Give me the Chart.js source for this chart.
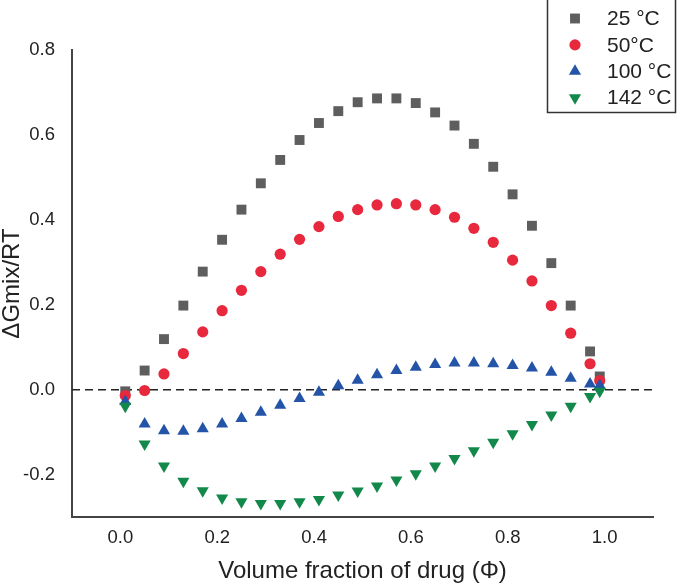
<!DOCTYPE html>
<html>
<head>
<meta charset="utf-8">
<script src="https://cdn.jsdelivr.net/npm/chart.js@4/dist/chart.umd.min.js"></script>
<style>
  html, body { margin: 0; padding: 0; background: #fff; }
  .wrap { position: relative; width: 677px; height: 586px; }
</style>
</head>
<body>
<div class="wrap"><canvas id="grafico"></canvas></div>
<script>
// volume fraction of drug
const phi = [0.01, 0.05, 0.09, 0.13, 0.17, 0.21, 0.25, 0.29, 0.33, 0.37, 0.41, 0.45, 0.49,
             0.53, 0.57, 0.61, 0.65, 0.69, 0.73, 0.77, 0.81, 0.85, 0.89, 0.93, 0.97, 0.99];

// dGmix/RT at each temperature
const g25 = [-0.004, 0.045, 0.119, 0.198, 0.278, 0.353, 0.424, 0.486, 0.541, 0.588, 0.628, 0.656, 0.677,
             0.686, 0.686, 0.675, 0.653, 0.622, 0.579, 0.525, 0.460, 0.386, 0.298, 0.198, 0.090, 0.031];
const g50 = [-0.014, -0.002, 0.037, 0.085, 0.136, 0.186, 0.234, 0.278, 0.319, 0.354, 0.384, 0.408, 0.424,
             0.435, 0.438, 0.435, 0.424, 0.406, 0.380, 0.347, 0.305, 0.256, 0.198, 0.133, 0.061, 0.021];
const g100 = [-0.028, -0.081, -0.097, -0.098, -0.092, -0.081, -0.068, -0.053, -0.037, -0.021, -0.006, 0.009, 0.022,
              0.035, 0.045, 0.053, 0.059, 0.063, 0.063, 0.061, 0.057, 0.051, 0.041, 0.027, 0.013, 0.010];
const g142 = [-0.039, -0.128, -0.180, -0.216, -0.238, -0.255, -0.264, -0.268, -0.268, -0.264, -0.259, -0.248, -0.239,
              -0.227, -0.213, -0.198, -0.180, -0.162, -0.144, -0.124, -0.104, -0.082, -0.060, -0.039, -0.016, -0.004];

const labels = ['25 °C', '50°C', '100 °C', '142 °C'];
const xTicks = [0.0, 0.2, 0.4, 0.6, 0.8, 1.0];
const yTicks = [-0.2, 0.0, 0.2, 0.4, 0.6, 0.8];

const FONT = "'Liberation Sans', Arial, sans-serif";
const pts = arr => arr.map((v, i) => ({ x: phi[i], y: v }));

// legend drawn as a bordered box in the top-right corner
const legendBox = {
    id: 'legendBox',
    afterDraw(chart) {
        const ctx = chart.ctx;
        ctx.save();
        ctx.strokeStyle = '#333';
        ctx.lineWidth = 1.5;
        ctx.strokeRect(547.5, -2, 128, 114.5);
        ctx.font = '21px ' + FONT;
        ctx.textBaseline = 'middle';
        ctx.textAlign = 'left';
        chart.data.datasets.filter(ds => ds.label).forEach((ds, i) => {
            const y = 18.5 + i * 26.4;
            ctx.fillStyle = ds.backgroundColor;
            Chart.helpers.drawPoint(ctx, {
                pointStyle: ds.pointStyle,
                radius: ds.pointRadius,
                rotation: ds.pointRotation || 0,
                borderWidth: 0
            }, 575, y);
            ctx.fillStyle = '#222';
            ctx.fillText(ds.label, 607, y + 1);
        });
        ctx.restore();
    }
};

const ctx = document.getElementById('grafico').getContext('2d');

const data = {
    datasets: [
        {
            label: labels[0], data: pts(g25), pointStyle: 'rect', pointRadius: 7,
            backgroundColor: '#5e5e5e', borderWidth: 0, order: 4
        },
        {
            label: labels[1], data: pts(g50), pointStyle: 'circle', pointRadius: 5.6,
            backgroundColor: '#e8283d', borderWidth: 0, order: 3
        },
        {
            label: labels[2], data: pts(g100), pointStyle: 'triangle', pointRadius: 7,
            backgroundColor: '#2454a8', borderWidth: 0, order: 2
        },
        {
            label: labels[3], data: pts(g142), pointStyle: 'triangle', pointRadius: 7, pointRotation: 180,
            backgroundColor: '#12884b', borderWidth: 0, order: 1
        },
        {
            type: 'line', data: [{ x: -0.1, y: 0 }, { x: 1.1, y: 0 }],
            borderColor: '#222', borderWidth: 1.5, borderDash: [8, 5],
            pointRadius: 0, order: 5
        }
    ]
};

const config = {
    type: 'scatter',
    data: data,
    options: {
        responsive: true,
        maintainAspectRatio: false,
        animation: false,
        devicePixelRatio: 1,
        layout: { padding: { left: 0, top: 50, right: 24, bottom: 0 } },
        plugins: { legend: { display: false }, tooltip: { enabled: false } },
        scales: {
            x: {
                type: 'linear', min: -0.1, max: 1.1,
                afterBuildTicks: s => { s.ticks = xTicks.map(v => ({ value: v })); },
                afterFit: s => { s.height = 69; },
                grid: { display: false },
                border: { display: true, color: '#444', width: 2 },
                ticks: {
                    padding: 2, color: '#222', font: { family: FONT, size: 18.5 },
                    callback: v => v.toFixed(1)
                },
                title: {
                    display: true, text: 'Volume fraction of drug (Φ)', color: '#222',
                    font: { family: FONT, size: 24, lineHeight: 1 }, padding: { top: 0, bottom: 3 }
                }
            },
            y: {
                type: 'linear', min: -0.3, max: 0.8,
                afterBuildTicks: s => { s.ticks = yTicks.map(v => ({ value: v })); },
                afterFit: s => { s.width = 72; },
                grid: { display: false },
                border: { display: true, color: '#444', width: 2 },
                ticks: {
                    padding: 9, color: '#222', font: { family: FONT, size: 18.5 },
                    callback: v => v.toFixed(1)
                },
                title: {
                    display: true, text: 'ΔGmix/RT', color: '#222',
                    font: { family: FONT, size: 24, lineHeight: 1 }, padding: 0
                }
            }
        }
    },
    plugins: [legendBox]
};

new Chart(ctx, config);
</script>
</body>
</html>
